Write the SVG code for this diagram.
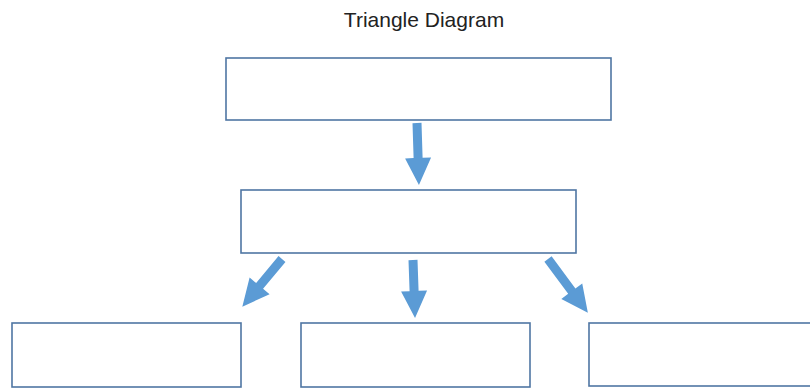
<svg xmlns="http://www.w3.org/2000/svg" width="810" height="390" viewBox="0 0 810 390">
<style>
.box{fill:#ffffff;stroke:#4f76a3;stroke-width:1.6}
.arr{fill:#5b9bd5}
.title{font-family:"Liberation Sans",Arial,sans-serif;font-size:21px;fill:#222}
</style>
<rect width="810" height="390" fill="#ffffff"/>
<text class="title" x="424" y="27" text-anchor="middle">Triangle Diagram</text>
<g id="node-top"><rect class="box" x="226" y="58" width="385" height="62"/></g>
<g id="node-middle"><rect class="box" x="241" y="190" width="335" height="63"/></g>
<g id="node-left"><rect class="box" x="12" y="323" width="229" height="64"/></g>
<g id="node-center"><rect class="box" x="301" y="323" width="229" height="64"/></g>
<g id="node-right"><rect class="box" x="589" y="323" width="230" height="63"/></g>
<g id="connectors">
<path class="arr" transform="translate(417,123) rotate(88.2)" d="M0,-4.5 L35,-4.5 L35,-13 L62,0 L35,13 L35,4.5 L0,4.5 Z"/>
<path class="arr" transform="translate(413,260) rotate(88)" d="M0,-4.5 L31,-4.5 L31,-13 L58,0 L31,13 L31,4.5 L0,4.5 Z"/>
<path class="arr" transform="translate(282,259) rotate(129.8)" d="M0,-4.5 L35,-4.5 L35,-13 L62,0 L35,13 L35,4.5 L0,4.5 Z"/>
<path class="arr" transform="translate(548,259) rotate(53.5)" d="M0,-4.5 L40,-4.5 L40,-13 L67,0 L40,13 L40,4.5 L0,4.5 Z"/>
</g>
</svg>
